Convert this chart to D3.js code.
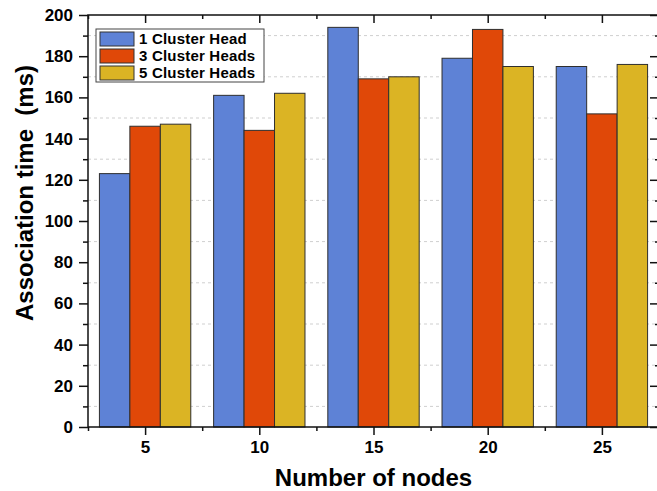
<!DOCTYPE html>
<html>
<head>
<meta charset="utf-8">
<script src="https://cdn.jsdelivr.net/npm/d3@7"></script>
<style>
    html, body { margin: 0; padding: 0; background: #fff; overflow: hidden; }
    text { font-family: Arial, "Liberation Sans", sans-serif; font-weight: bold; fill: #000; }
</style>
</head>
<body>
<div id="barChart"></div>
<script>
// data
const nodes = [5, 10, 15, 20, 25];
const series = ["1 Cluster Head", "3 Cluster Heads", "5 Cluster Heads"];
const oneHead = [123, 161, 194, 179, 175];
const threeHeads = [146, 144, 169, 193, 152];
const fiveHeads = [147, 162, 170, 175, 176];
const yTicks = [0, 20, 40, 60, 80, 100, 120, 140, 160, 180, 200];
const colors = ["#5E82D6", "#E04808", "#DBB424"];

const W = 657, H = 491;
const plot = { left: 88, right: 659, top: 15, bottom: 427 };

var svg = d3.select("#barChart")
    .append("svg")
    .attr("width", W)
    .attr("height", H);

var x = d3.scaleLinear()
    .domain([2.5, 27.5])
    .range([plot.left, plot.right]);

var y = d3.scaleLinear()
    .domain([0, 200])
    .range([plot.bottom, plot.top]);

var color = d3.scaleOrdinal()
    .domain(series)
    .range(colors);

// each group spans 4 units of the x axis
var groupW = x(4) - x(0);
var xSubgroup = d3.scaleBand()
    .domain(series)
    .range([0, groupW]);

var rows = nodes.map(function (n, i) {
    return { n: n, values: [oneHead[i], threeHeads[i], fiveHeads[i]] };
});

// grid lines at the minor ticks (10, 30, ... 190)
var minorY = d3.range(10, 200, 20);
svg.append("g")
    .selectAll("line")
    .data(minorY)
    .enter()
    .append("line")
    .attr("x1", plot.left)
    .attr("x2", plot.right)
    .attr("y1", function (d) { return y(d) })
    .attr("y2", function (d) { return y(d) })
    .attr("stroke", "#cfcfcf")
    .attr("stroke-width", 1)
    .attr("stroke-dasharray", "3,3");

// bars
var groups = svg.selectAll("g.layer")
    .data(rows)
    .enter()
    .append("g")
    .classed("layer", true)
    .attr("transform", function (d) { return "translate(" + (x(d.n) - groupW / 2) + ",0)"; });

groups.selectAll("rect")
    .data(function (d) { return series.map(function (key, i) { return { key: key, value: d.values[i] }; }); })
    .enter()
    .append("rect")
    .attr("x", function (d) { return xSubgroup(d.key); })
    .attr("width", xSubgroup.bandwidth())
    .attr("y", function (d) { return y(d.value); })
    .attr("height", function (d) { return y(0) - y(d.value); })
    .attr("fill", function (d) { return color(d.key); })
    .attr("stroke", "#2e2e2e")
    .attr("stroke-width", 1);

// axes
var leftAxis = svg.append("g")
    .attr("transform", "translate(" + plot.left + ",0)")
    .call(d3.axisLeft(y).tickValues(yTicks).tickSize(9).tickPadding(6));

var bottomAxis = svg.append("g")
    .attr("transform", "translate(0," + plot.bottom + ")")
    .call(d3.axisBottom(x).tickValues(nodes).tickSize(8).tickPadding(6));

var topAxis = svg.append("g")
    .attr("transform", "translate(0," + plot.top + ")")
    .call(d3.axisBottom(x).tickValues(nodes).tickSize(8).tickFormat(""));

var rightAxis = svg.append("g")
    .attr("transform", "translate(" + plot.right + ",0)")
    .call(d3.axisLeft(y).tickValues(yTicks).tickSize(9).tickFormat(""));

// minor ticks
var minorX = [2.5, 7.5, 12.5, 17.5, 22.5, 27.5];
leftAxis.append("g").call(d3.axisLeft(y).tickValues(minorY).tickSize(5).tickFormat(""));
rightAxis.append("g").call(d3.axisLeft(y).tickValues(minorY).tickSize(4).tickFormat(""));
bottomAxis.append("g").call(d3.axisBottom(x).tickValues(minorX).tickSize(4).tickFormat(""));
topAxis.append("g").call(d3.axisBottom(x).tickValues(minorX).tickSize(4).tickFormat(""));

svg.selectAll(".domain").remove();
svg.selectAll(".tick line").attr("stroke", "#111").attr("stroke-width", 1.5);
svg.selectAll(".tick text").attr("font-size", "17px").attr("fill", "#000");

// frame
svg.append("rect")
    .attr("x", plot.left)
    .attr("y", plot.top)
    .attr("width", plot.right - plot.left)
    .attr("height", plot.bottom - plot.top)
    .attr("fill", "none")
    .attr("stroke", "#111")
    .attr("stroke-width", 1.5);

// axis titles
svg.append("text")
    .attr("text-anchor", "middle")
    .attr("font-size", "24px")
    .attr("x", 373.5)
    .attr("y", 486)
    .text("Number of nodes");

svg.append("text")
    .attr("text-anchor", "middle")
    .attr("font-size", "24px")
    .attr("transform", "translate(33,193) rotate(-90)")
    .style("white-space", "pre")
    .text("Association time  (ms)");

// legend
var legend = svg.append("g")
    .attr("transform", "translate(96,29)");

legend.append("rect")
    .attr("width", 168)
    .attr("height", 53)
    .attr("fill", "#fff")
    .attr("stroke", "#444")
    .attr("stroke-width", 1);

legend.selectAll("rect.swatch")
    .data(series)
    .enter()
    .append("rect")
    .classed("swatch", true)
    .attr("x", 4)
    .attr("y", function (d, i) { return 3 + i * 17 })
    .attr("width", 34)
    .attr("height", 14)
    .attr("fill", function (d) { return color(d) })
    .attr("stroke", "#333")
    .attr("stroke-width", 1);

legend.selectAll("text")
    .data(series)
    .enter()
    .append("text")
    .attr("x", 43)
    .attr("y", function (d, i) { return 14.5 + i * 17 })
    .attr("font-size", "15px")
    .style("letter-spacing", "0.2px")
    .text(function (d) { return d });
</script>
</body>
</html>
